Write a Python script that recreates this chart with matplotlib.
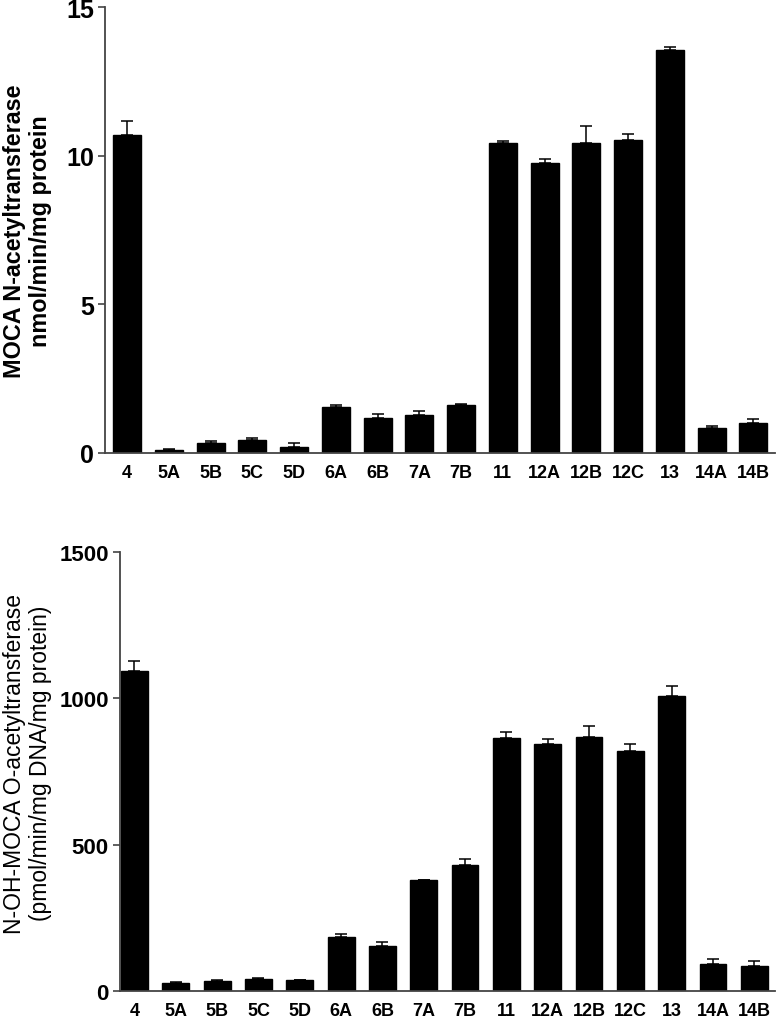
import matplotlib
matplotlib.use("Agg")
import matplotlib.pyplot as plt
import numpy as np

plt.rcParams['font.family'] = ['Liberation Sans', 'DejaVu Sans']

categories = ["4", "5A", "5B", "5C", "5D", "6A", "6B", "7A", "7B",
              "11", "12A", "12B", "12C", "13", "14A", "14B"]

# Top panel: MOCA N-acetyltransferase (nmol/min/mg protein)
nat_mean = [10.7, 0.09, 0.35, 0.44, 0.19, 1.55, 1.17, 1.28, 1.60,
            10.43, 9.77, 10.43, 10.54, 13.56, 0.83, 1.00]
nat_err = [0.48, 0.03, 0.07, 0.08, 0.13, 0.06, 0.13, 0.13, 0.05,
           0.07, 0.12, 0.58, 0.18, 0.09, 0.09, 0.16]

# Bottom panel: N-OH-MOCA O-acetyltransferase (pmol/min/mg DNA/mg protein)
oat_mean = [1092, 28, 33, 41, 36, 183, 155, 378, 429,
            865, 844, 866, 820, 1007, 91, 85]
oat_err = [35, 2, 5, 2, 1, 10, 12, 2, 21,
           19, 17, 40, 25, 34, 18, 18]

fig = plt.figure(figsize=(7.8, 10.2), dpi=100)

spine_col = '#444444'

def style(ax):
    for s in ['top', 'right']:
        ax.spines[s].set_visible(False)
    for s in ['left', 'bottom']:
        ax.spines[s].set_color(spine_col)
        ax.spines[s].set_linewidth(1.3)
    ax.tick_params(axis='y', direction='out', length=5, width=1.2, color=spine_col, pad=3)
    ax.tick_params(axis='x', length=0, pad=8)

x = np.arange(len(categories))

# Top axes
ax1 = fig.add_axes([105/780, 1-454/1020, (775-105)/780, (454-8)/1020])
ax1.bar(x, nat_mean, width=0.67, color='black', edgecolor='black')
ax1.errorbar(x, nat_mean, yerr=[np.zeros(len(x)), nat_err], fmt='none',
             ecolor='black', elinewidth=1.1, capsize=4, capthick=1.1)
ax1.set_xlim(-0.53, 15.52)
ax1.set_ylim(0, 15)
ax1.set_yticks([0, 5, 10, 15])
ax1.set_yticklabels(['0', '5', '10', '15'], fontsize=18, fontweight='bold')
ax1.set_xticks(x)
ax1.set_xticklabels(categories, fontsize=13, fontweight='bold')
ax1.set_ylabel("MOCA N-acetyltransferase\nnmol/min/mg protein",
               fontsize=16.8, fontweight='bold', linespacing=1.15)
ax1.yaxis.set_label_coords(-0.079, 0.5)
style(ax1)

# Bottom axes
ax2 = fig.add_axes([120/780, 1-992/1020, (775-120)/780, (992-552.7)/1020])
ax2.bar(x, oat_mean, width=0.65, color='black', edgecolor='black')
ax2.errorbar(x, oat_mean, yerr=[np.zeros(len(x)), oat_err], fmt='none',
             ecolor='black', elinewidth=1.1, capsize=4, capthick=1.1)
ax2.set_xlim(-0.35, 15.5)
ax2.set_ylim(0, 1500)
ax2.set_yticks([0, 500, 1000, 1500])
ax2.set_yticklabels(['0', '500', '1000', '1500'], fontsize=16, fontweight='bold')
ax2.set_xticks(x)
ax2.set_xticklabels(categories, fontsize=13, fontweight='bold')
ax2.set_ylabel("N-OH-MOCA O-acetyltransferase\n(pmol/min/mg DNA/mg protein)",
               fontsize=16.5, linespacing=1.15)
ax2.yaxis.set_label_coords(-0.104, 0.52)
style(ax2)

fig.savefig("out.png", dpi=100)
